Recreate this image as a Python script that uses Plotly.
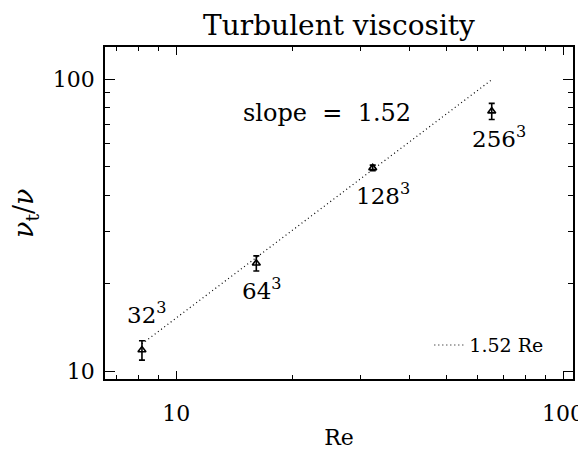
import numpy as np
import plotly.graph_objects as go

# Data
re_vals = [8.15, 16.1, 32.2, 65.4]
nu_ratio = [11.8, 23.4, 49.6, 77.6]
nu_err = [0.9, 1.4, 1.1, 4.9]
res_labels = ["32<sup>3</sup>", "64<sup>3</sup>", "128<sup>3</sup>", "256<sup>3</sup>"]
fit_slope = 1.52
fit_re = [re_vals[0], re_vals[-1]]
fit_nu = [fit_slope * r for r in fit_re]

FONT = "DejaVu Serif"

# page body has an 8px default margin; figure is sized to fill the rest
W, H = 578, 442
ML, MR, MT, MB = 97, 13, 39, 71
PW = W - ML - MR

fig = go.Figure()

fig.add_trace(go.Scatter(
    x=fit_re, y=fit_nu, mode="lines",
    line=dict(color="black", width=1.2, dash="1px,3px"),
    name="1.52 Re", showlegend=True,
))

fig.add_trace(go.Scatter(
    x=re_vals, y=nu_ratio, mode="markers",
    marker=dict(symbol="triangle-up-open", size=7, color="black",
                line=dict(color="black", width=1.6)),
    error_y=dict(type="data", array=nu_err, visible=True,
                 color="black", thickness=1.6, width=3),
    showlegend=False,
))

# resolution labels anchored to data points
shifts = [(5, 37), (6, -26), (10, -26), (7, -26)]
for xv, yv, lab, (dx, dy) in zip(re_vals, nu_ratio, res_labels, shifts):
    fig.add_annotation(x=np.log10(xv), y=np.log10(yv), xref="x", yref="y",
                       xanchor="center", yanchor="middle",
                       text=lab, showarrow=False, xshift=dx, yshift=dy,
                       font=dict(family=FONT, size=23, color="black"))

fig.add_annotation(x=0.474, y=0.80, xref="paper", yref="paper",
                   xanchor="center", yanchor="middle",
                   text="slope&nbsp;&nbsp;=&nbsp;&nbsp;1.52", showarrow=False,
                   font=dict(family=FONT, size=24, color="black"))

# y-axis title
fig.add_annotation(x=(17 - ML) / PW, y=0.5, xref="paper", yref="paper",
                   xanchor="center", yanchor="middle", textangle=-90,
                   text="<i>ν</i><sub>t</sub>/<i>ν</i>", showarrow=False,
                   font=dict(family=FONT, size=27, color="black"))

axis_common = dict(
    type="log", showgrid=False, zeroline=False, automargin=False,
    showline=True, linecolor="black", linewidth=1.5, mirror="ticks",
    ticks="inside", tickcolor="black", tickwidth=1.3,
    tickfont=dict(family=FONT, size=22, color="black"),
)

fig.update_xaxes(
    **axis_common,
    range=[np.log10(6.54), np.log10(106.1)],
    tickvals=[10, 100], ticktext=["10", "100"], ticklen=8,
    minor=dict(tickvals=[7, 8, 9, 20, 30, 40, 50, 60, 70, 80, 90],
               ticks="inside", ticklen=4, tickcolor="black", tickwidth=1.3,
               showgrid=False),
    ticklabelstandoff=14,
    title=dict(text="Re", font=dict(family=FONT, size=22, color="black"),
               standoff=8),
)
fig.update_yaxes(
    **axis_common,
    range=[np.log10(9.39), np.log10(128.7)],
    tickvals=[10, 100], ticktext=["10", "100"], ticklen=10,
    minor=dict(tickvals=[20, 30, 40, 50, 60, 70, 80, 90],
               ticks="inside", ticklen=5, tickcolor="black", tickwidth=1.3,
               showgrid=False),
    ticklabelstandoff=4,
)

fig.update_layout(
    width=W, height=H,
    margin=dict(l=ML, r=MR, t=MT, b=MB, autoexpand=False),
    paper_bgcolor="white", plot_bgcolor="white",
    title=dict(text="Turbulent viscosity", x=0.5, xref="paper", xanchor="center",
               y=1 - 17 / H, yref="container", yanchor="middle",
               font=dict(family=FONT, size=28, color="black")),
    legend=dict(x=0.693, y=0.102, xanchor="left", yanchor="middle",
                bgcolor="rgba(0,0,0,0)", borderwidth=0,
                font=dict(family=FONT, size=19, color="black")),
)

fig.write_html("out.html")
